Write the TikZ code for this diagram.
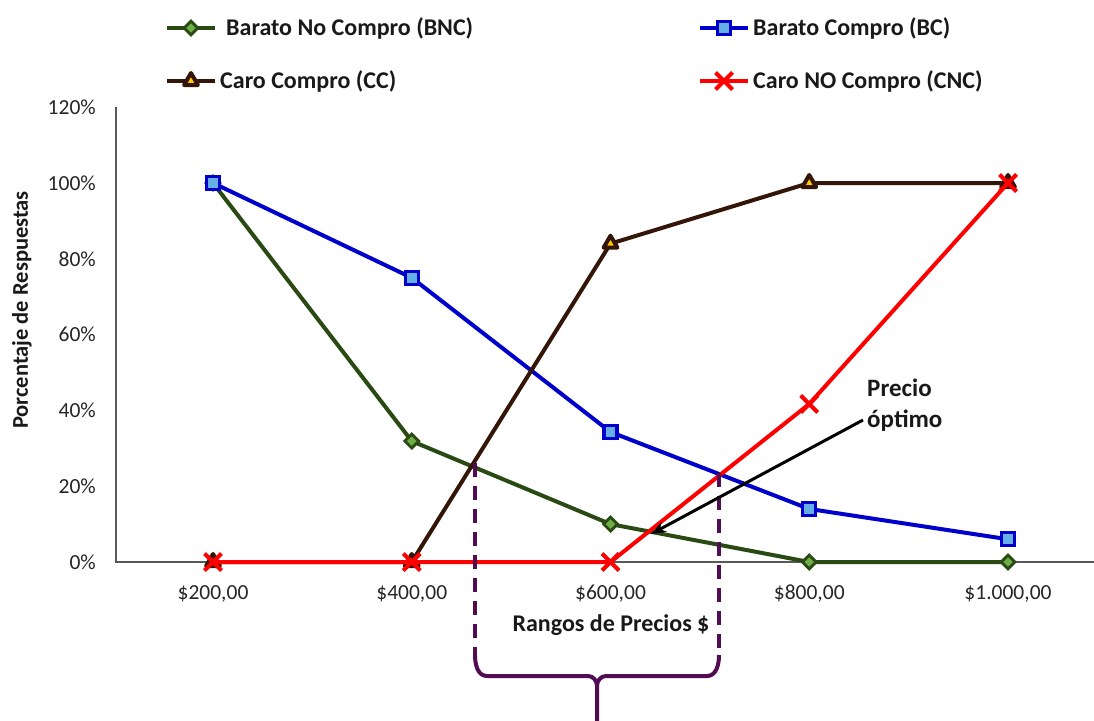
\documentclass[tikz,border=0pt]{standalone}
\usepackage{fontspec}
\setmainfont{Carlito}
\usetikzlibrary{shapes.geometric,shapes.misc,arrows.meta}

\definecolor{bncline}{RGB}{42,74,20}
\definecolor{bncfill}{RGB}{112,173,71}
\definecolor{bcline}{RGB}{0,0,204}
\definecolor{bcfill}{RGB}{100,175,230}
\definecolor{ccline}{RGB}{52,22,8}
\definecolor{ccfill}{RGB}{255,200,0}
\definecolor{cncline}{RGB}{255,0,0}
\definecolor{bracecol}{RGB}{82,12,84}
\definecolor{axiscol}{RGB}{89,89,89}

% data point in pixel space: category index, percentage
\newcommand\datapt[3]{\coordinate (#1) at ({213+198.75*#2},{562-3.79*#3});}

\begin{document}
\begin{tikzpicture}[x=1pt,y=-1pt,
  axisline/.style={draw=axiscol, line width=2pt},
  ticklbl/.style={font=\fontsize{21.5}{24}\selectfont, text=black!85, inner sep=0pt},
  boldlbl/.style={font=\fontsize{24}{27}\selectfont\bfseries, text=black!90, inner sep=0pt},
  series/.style={line width=4pt, line join=round, line cap=round},
  mbnc/.style={diamond, draw=bncline, fill=bncfill, line width=2.8pt, minimum size=15pt, inner sep=0pt},
  mbc/.style={rectangle, draw=bcline, fill=bcfill, line width=3.2pt, minimum size=13pt, inner sep=0pt},
  mcc/.style={regular polygon, regular polygon sides=3, draw=ccline, fill=ccfill, line width=4pt, line join=round, minimum size=16pt, inner sep=0pt},
  mcnc/.style={cross out, draw=cncline, line width=4pt, minimum size=13pt, inner sep=0pt},
  bracestyle/.style={draw=bracecol, line width=4pt},
  dashedguide/.style={bracestyle, dash pattern=on 14pt off 9pt},
  optarrow/.style={draw=black, line width=3pt, -{Stealth[length=15pt,width=11pt]}}
]
\useasboundingbox[fill=white] (0,0) rectangle (1094,720);

% axes
\coordinate (ytop) at (116,107);
\coordinate (orig) at (116,562);
\coordinate (xend) at (1100,562);
\draw[axisline] (ytop) -- (orig) -- (xend);

% y tick labels
\foreach \v in {0,20,...,120}
  \node[ticklbl, anchor=east] (ylab\v) at (96,{562-3.79*\v}) {\v\%};

% x tick labels
\foreach \i/\t in {0/{\$200,00},1/{\$400,00},2/{\$600,00},3/{\$800,00},4/{\$1.000,00}}
  \node[ticklbl] (xlab\i) at ({213+198.75*\i},594) {\t};

% axis titles
\node[boldlbl, font=\fontsize{22.5}{26}\selectfont\bfseries, rotate=90] (ytitle) at (22,310) {Porcentaje de Respuestas};
\node[boldlbl] (xtitle) at (611,625) {Rangos de Precios \$};

% data
\datapt{bnc0}{0}{100}\datapt{bnc1}{1}{31.9}\datapt{bnc2}{2}{10}\datapt{bnc3}{3}{0}\datapt{bnc4}{4}{0}
\datapt{bc0}{0}{100}\datapt{bc1}{1}{75}\datapt{bc2}{2}{34.3}\datapt{bc3}{3}{14}\datapt{bc4}{4}{6}
\datapt{cc0}{0}{0}\datapt{cc1}{1}{0}\datapt{cc2}{2}{84}\datapt{cc3}{3}{100}\datapt{cc4}{4}{100}
\datapt{cnc0}{0}{0}\datapt{cnc1}{1}{0}\datapt{cnc2}{2}{0}\datapt{cnc3}{3}{41.7}\datapt{cnc4}{4}{100}

% series: Barato No Compro
\draw[series, bncline] (bnc0) -- (bnc1) -- (bnc2) -- (bnc3) -- (bnc4);
\foreach \k in {0,...,4} \node[mbnc] (mbnc\k) at (bnc\k) {};
% series: Barato Compro
\draw[series, bcline] (bc0) -- (bc1) -- (bc2) -- (bc3) -- (bc4);
\foreach \k in {0,...,4} \node[mbc] (mbc\k) at (bc\k) {};
% series: Caro Compro
\draw[series, ccline] (cc0) -- (cc1) -- (cc2) -- (cc3) -- (cc4);
\foreach \k in {0,...,4} \node[mcc] (mcc\k) at (cc\k) {};
% series: Caro NO Compro
\draw[series, cncline] (cnc0) -- (cnc1) -- (cnc2) -- (cnc3) -- (cnc4);
\foreach \k in {0,...,4} \node[mcnc] (mcnc\k) at (cnc\k) {};

% legend
\coordinate (lgA1) at (167,28); \coordinate (lgA2) at (215,28);
\draw[series, line cap=butt, bncline] (lgA1) -- (lgA2);
\node[mbnc] (lgAm) at (191,28) {};
\node[boldlbl, anchor=west] (lgAt) at (226,28) {Barato No Compro (BNC)};

\coordinate (lgB1) at (700,28); \coordinate (lgB2) at (748,28);
\draw[series, line cap=butt, bcline] (lgB1) -- (lgB2);
\node[mbc] (lgBm) at (724,28) {};
\node[boldlbl, anchor=west] (lgBt) at (753,28) {Barato Compro (BC)};

\coordinate (lgC1) at (167,81); \coordinate (lgC2) at (215,81);
\draw[series, line cap=butt, ccline] (lgC1) -- (lgC2);
\node[mcc] (lgCm) at (191,81) {};
\node[boldlbl, anchor=west] (lgCt) at (220,81) {Caro Compro (CC)};

\coordinate (lgD1) at (700,81); \coordinate (lgD2) at (748,81);
\draw[series, line cap=butt, cncline] (lgD1) -- (lgD2);
\node[mcnc] (lgDm) at (724,81) {};
\node[boldlbl, anchor=west] (lgDt) at (753,81) {Caro NO Compro (CNC)};

% acceptable price range guides and brace
\coordinate (gL1) at (475,463); \coordinate (gL2) at (475,655);
\coordinate (gR1) at (719,473); \coordinate (gR2) at (719,655);
\draw[dashedguide] (gL1) -- (gL2);
\draw[dashedguide] (gR1) -- (gR2);
\coordinate (bmid) at (597,686); \coordinate (bstem) at (597,722);
\draw[bracestyle, line join=round] (gL2) to[out=-90,in=180] (487,676) -- (588,676) to[out=0,in=90] (bmid) -- (bstem);
\draw[bracestyle, line join=round] (gR2) to[out=-90,in=0] (707,676) -- (606,676) to[out=180,in=90] (bmid);

% optimal price annotation
\node[boldlbl, font=\fontsize{25}{31}\selectfont\bfseries, anchor=west, align=left] (optlbl) at (867,405) {Precio\\óptimo};
\coordinate (optstart) at (863,420);
\coordinate (opttip) at (651,534);
\draw[optarrow] (optstart) -- (opttip);
\end{tikzpicture}
\end{document}
